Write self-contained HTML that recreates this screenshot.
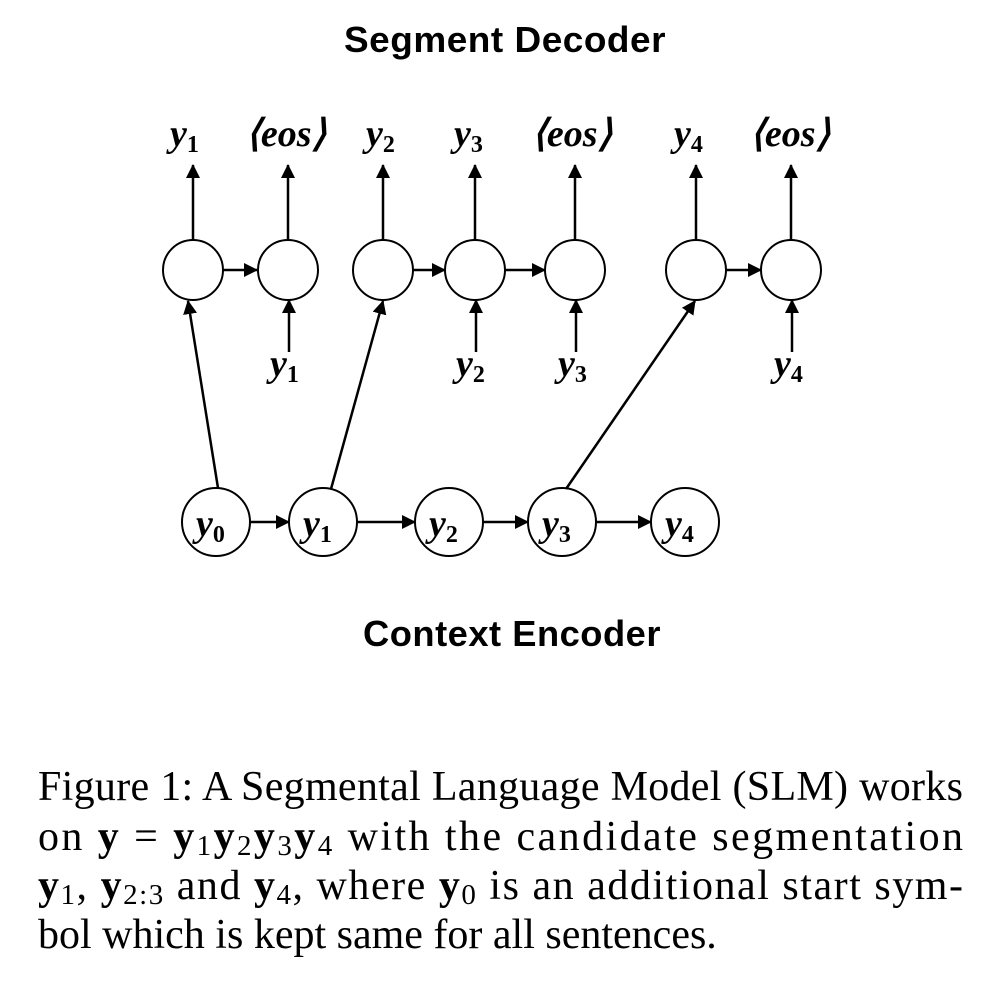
<!DOCTYPE html>
<html><head><meta charset="utf-8"><style>
html,body{margin:0;padding:0;background:#fff}
svg{display:block}
.t{font-family:"Liberation Sans",sans-serif;font-weight:bold;font-size:36px;letter-spacing:0.5px}
.v{font-family:"Liberation Serif",serif;font-weight:bold;font-style:italic;font-size:38px}
.s{font-style:normal;font-size:24px}
.c{font-family:"Liberation Serif",serif;font-size:42px}
.b{font-weight:bold}
</style></head><body>
<svg width="1004" height="982" viewBox="0 0 1004 982" xmlns="http://www.w3.org/2000/svg">
<defs><marker id="u" markerWidth="14" markerHeight="16" refX="13" refY="7" orient="auto" markerUnits="userSpaceOnUse"><path d="M0,0 L14,7 L0,14 z" fill="#000"/></marker></defs>
<text class="t" x="505" y="52" text-anchor="middle" textLength="322" lengthAdjust="spacingAndGlyphs">Segment Decoder</text>
<text class="t" x="512" y="646" text-anchor="middle" textLength="298" lengthAdjust="spacingAndGlyphs">Context Encoder</text>
<g stroke="#000" stroke-width="2" fill="#fff">
<circle cx="193" cy="270" r="30"/><circle cx="288" cy="270" r="30"/><circle cx="383" cy="270" r="30"/><circle cx="475" cy="270" r="30"/><circle cx="575" cy="270" r="30"/><circle cx="696" cy="270" r="30"/><circle cx="791" cy="270" r="30"/>
<circle cx="216" cy="522" r="34"/><circle cx="323" cy="522" r="34"/><circle cx="449" cy="522" r="34"/><circle cx="562" cy="522" r="34"/><circle cx="685" cy="522" r="34"/>
</g>
<g stroke="#000" stroke-width="2.5" marker-end="url(#u)">
<line x1="193" y1="240" x2="193" y2="165"/><line x1="288" y1="240" x2="288" y2="165"/><line x1="383" y1="240" x2="383" y2="165"/><line x1="475" y1="240" x2="475" y2="165"/><line x1="575" y1="240" x2="575" y2="165"/><line x1="696" y1="240" x2="696" y2="165"/><line x1="791" y1="240" x2="791" y2="165"/>
<line x1="223" y1="270" x2="257" y2="270"/><line x1="413" y1="270" x2="445" y2="270"/><line x1="505" y1="270" x2="545" y2="270"/><line x1="726" y1="270" x2="761" y2="270"/>
<line x1="289" y1="352" x2="289" y2="300"/><line x1="476" y1="352" x2="476" y2="300"/><line x1="576" y1="352" x2="576" y2="300"/><line x1="792" y1="352" x2="792" y2="300"/>
<line x1="218" y1="488" x2="188" y2="301"/><line x1="331" y1="489" x2="383" y2="301"/><line x1="566" y1="489" x2="695" y2="301"/>
<line x1="250" y1="522" x2="289" y2="522"/><line x1="357" y1="522" x2="415" y2="522"/><line x1="483" y1="522" x2="528" y2="522"/><line x1="596" y1="522" x2="651" y2="522"/>
</g>
<g class="v">
<text x="170" y="146">y<tspan class="s" dy="6">1</tspan></text>
<text x="246" y="146">⟨eos⟩</text>
<text x="366" y="146">y<tspan class="s" dy="6">2</tspan></text>
<text x="454" y="146">y<tspan class="s" dy="6">3</tspan></text>
<text x="532" y="146">⟨eos⟩</text>
<text x="674" y="146">y<tspan class="s" dy="6">4</tspan></text>
<text x="750" y="146">⟨eos⟩</text>
<text x="270" y="376">y<tspan class="s" dy="6">1</tspan></text>
<text x="456" y="376">y<tspan class="s" dy="6">2</tspan></text>
<text x="558" y="376">y<tspan class="s" dy="6">3</tspan></text>
<text x="774" y="376">y<tspan class="s" dy="6">4</tspan></text>
<text x="196" y="536">y<tspan class="s" dy="6">0</tspan></text>
<text x="303" y="536">y<tspan class="s" dy="6">1</tspan></text>
<text x="429" y="536">y<tspan class="s" dy="6">2</tspan></text>
<text x="542" y="536">y<tspan class="s" dy="6">3</tspan></text>
<text x="665" y="536">y<tspan class="s" dy="6">4</tspan></text>
</g>
<g class="c">
<text x="38" y="800" textLength="925" lengthAdjust="spacing">Figure 1: A Segmental Language Model (SLM) works</text>
<text x="38" y="850" textLength="925" lengthAdjust="spacing">on <tspan class="b">y</tspan>  =  <tspan class="b">y</tspan><tspan font-size="29" dy="5">1</tspan><tspan class="b" dy="-5">y</tspan><tspan font-size="29" dy="5">2</tspan><tspan class="b" dy="-5">y</tspan><tspan font-size="29" dy="5">3</tspan><tspan class="b" dy="-5">y</tspan><tspan font-size="29" dy="5">4</tspan><tspan dy="-5"> with the candidate segmentation</tspan></text>
<text x="38" y="899" textLength="925" lengthAdjust="spacing"><tspan class="b">y</tspan><tspan font-size="29" dy="5">1</tspan><tspan dy="-5">, </tspan><tspan class="b">y</tspan><tspan font-size="29" dy="5">2:3</tspan><tspan dy="-5"> and </tspan><tspan class="b">y</tspan><tspan font-size="29" dy="5">4</tspan><tspan dy="-5">, where </tspan><tspan class="b">y</tspan><tspan font-size="29" dy="5">0</tspan><tspan dy="-5"> is an additional start sym-</tspan></text>
<text x="38" y="948">bol which is kept same for all sentences.</text>
</g>
</svg>
</body></html>
